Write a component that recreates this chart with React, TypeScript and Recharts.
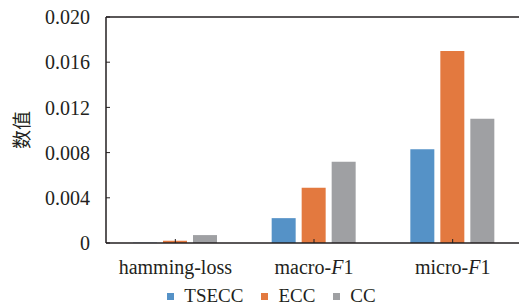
import React from 'react';
import { BarChart, Bar, XAxis, YAxis, ReferenceLine } from 'recharts';

const categories = ['hamming-loss', 'macro-F1', 'micro-F1'];
const tseccValues = [0.00003, 0.0022, 0.0083];
const eccValues = [0.0002, 0.0049, 0.017];
const ccValues = [0.0007, 0.0072, 0.011];
const yTicks = [0, 0.004, 0.008, 0.012, 0.016, 0.02];
const seriesNames = ['TSECC', 'ECC', 'CC'];
const seriesColors = ['#5592C7', '#E3793F', '#9FA0A3'];

const data = categories.map((c, i) => ({
  name: c,
  TSECC: tseccValues[i],
  ECC: eccValues[i],
  CC: ccValues[i],
}));

const serif = 'Tinos, "Liberation Serif", "Times New Roman", serif';

const XTick = (props: any) => {
  const { x, y, payload } = props;
  const label: string = payload.value;
  const m = label.match(/^(.*-)F(1)$/);
  return (
    <text x={x} y={y} dy="0.71em" textAnchor="middle" fontFamily={serif} fontSize={20} fill="#231f20">
      {m ? (
        <>
          <tspan>{m[1]}</tspan>
          <tspan fontStyle="italic">F</tspan>
          <tspan>{m[2]}</tspan>
        </>
      ) : (
        label
      )}
    </text>
  );
};

const fmt = (v: number) => (v === 0 ? '0' : v.toFixed(3));

const LegendBox = () => (
  <div
    style={{
      position: 'absolute',
      left: 0,
      top: 284,
      width: 519,
      height: 24,
      display: 'flex',
      justifyContent: 'center',
      alignItems: 'center',
      fontFamily: serif,
      fontSize: 19,
      color: '#231f20',
    }}
  >
    {seriesNames.map((n, i) => (
      <div key={n} style={{ display: 'flex', alignItems: 'center', marginLeft: i === 0 ? 24 : 18 }}>
        <div style={{ width: 7, height: 7, background: seriesColors[i], marginRight: 10 }} />
        <span>{n}</span>
      </div>
    ))}
  </div>
);

export default function App() {
  return (
    <div style={{ position: 'absolute', left: 0, top: 0, width: 519, height: 307, overflow: 'hidden', background: '#fff' }}>
      <BarChart
        width={522}
        height={307}
        data={data}
        margin={{ top: 17, right: 0, bottom: 34, left: 0 }}
        barSize={24}
        barGap={6}
      >
        <ReferenceLine y={0.02} stroke="#231f20" strokeWidth={1.5} ifOverflow="extendDomain" />
        <XAxis
          dataKey="name"
          height={30}
          tick={<XTick />}
          tickSize={-4}
          tickMargin={21}
          axisLine={{ stroke: '#231f20', strokeWidth: 1.5 }}
          tickLine={{ stroke: '#231f20' }}
          interval={0}
        />
        <YAxis
          width={106}
          domain={[0, 0.02]}
          ticks={yTicks}
          tickFormatter={fmt}
          tickSize={-4}
          tickMargin={20}
          axisLine={{ stroke: '#231f20', strokeWidth: 1.5 }}
          tickLine={{ stroke: '#231f20' }}
          tick={{ fontFamily: serif, fontSize: 20, fill: '#231f20' }}
          label={(p: any) => (
            <text
              x={20}
              y={130}
              transform="rotate(-90, 20, 130)"
              textAnchor="middle"
              dominantBaseline="central"
              fontFamily="Noto Sans CJK SC"
              fontSize={19}
              fill="#231f20"
            >
              数值
            </text>
          )}
        />
        {seriesNames.map((n, i) => (
          <Bar key={n} dataKey={n} fill={seriesColors[i]} isAnimationActive={false} />
        ))}
      </BarChart>
      <LegendBox />
    </div>
  );
}
